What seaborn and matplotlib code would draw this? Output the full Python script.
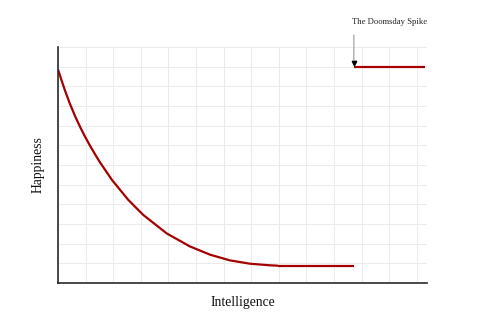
import matplotlib
matplotlib.use("Agg")
import matplotlib.pyplot as plt
import seaborn as sns

# Data
curve_x = [0.0, 0.13, 0.25, 0.43, 0.62, 0.80, 0.98, 1.16, 1.34, 1.52, 1.95, 2.55,
           3.09, 3.94, 4.78, 5.51, 6.23, 6.96, 7.68, 7.97]
curve_y = [10.86, 10.30, 9.80, 9.12, 8.48, 7.94, 7.44, 6.98, 6.55, 6.14, 5.25, 4.22,
           3.46, 2.52, 1.86, 1.44, 1.15, 0.98, 0.90, 0.88]
flat_x = [7.97, 10.72]
flat_y = [0.88, 0.88]
spike_x = [10.72, 13.3]
spike_y = [10.96, 10.96]
annot_label = "The Doomsday Spike"
annot_xy = (10.72, 11.05)
x_label = "Intelligence"
y_label = "Happiness"

sns.set_theme(style="white")
plt.rcParams['font.family'] = ['Liberation Serif', 'DejaVu Serif']

fig = plt.figure(figsize=(4.92, 3.29), dpi=100)
ax = fig.add_axes([58/492, 46/329, 369/492, 236/329])

red = "#a50000"
lw = 1.6
sns.lineplot(x=curve_x, y=curve_y, ax=ax, color=red, linewidth=lw, sort=False)
sns.lineplot(x=flat_x, y=flat_y, ax=ax, color=red, linewidth=lw, sort=False)
sns.lineplot(x=spike_x, y=spike_y, ax=ax, color=red, linewidth=lw, sort=False)
for ln in ax.lines:
    ln.set_solid_joinstyle("round")
    ln.set_solid_capstyle("butt")

ax.set_xlim(0, 13.37)
ax.set_ylim(0, 12)
ax.set_xticks(range(0, 14))
ax.set_yticks(range(0, 13))
ax.set_xticklabels([])
ax.set_yticklabels([])
ax.tick_params(length=0)
ax.grid(True, color="#ebebeb", linewidth=0.7)
ax.set_axisbelow(True)
for s in ["top", "right"]:
    ax.spines[s].set_visible(False)
for s in ["left", "bottom"]:
    ax.spines[s].set_color("#2a2a2a")
    ax.spines[s].set_linewidth(1.2)

ax.set_xlabel(x_label, fontsize=9.8, labelpad=6, color="#111111")
ax.set_ylabel(y_label, fontsize=9.8, labelpad=6, color="#111111")

# annotation
ax.annotate("", xy=(annot_xy[0], annot_xy[1] + 0.12), xytext=(annot_xy[0], 12.75),
            arrowprops=dict(arrowstyle="-", color="#999999", lw=0.8),
            annotation_clip=False)
ax.plot([annot_xy[0]], [annot_xy[1] + 0.12], marker="v", color="black",
        markersize=3.2, clip_on=False)
ax.text(12.0, 13.25, annot_label, fontsize=6.2, ha="center", va="center",
        color="#222222", clip_on=False)

fig.savefig("out.png", dpi=100)
